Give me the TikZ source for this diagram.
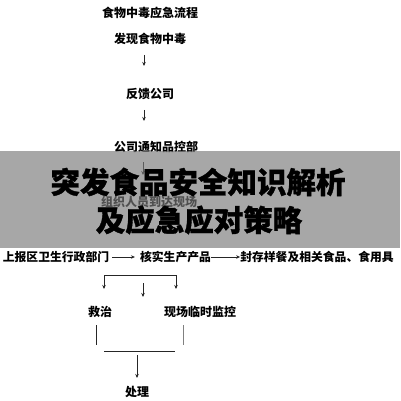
\documentclass[tikz,border=0pt]{standalone}
\usepackage{fontspec}
\setmainfont{Noto Sans CJK SC}
\newfontfamily\bannerfont{Noto Sans CJK SC}[BoldFeatures={FakeBold=1.2}]
\usetikzlibrary{arrows.meta, calc, positioning}
\tikzset{
    flow/.style = {-{Stealth[length=4pt,width=3.5pt]}, line width=0.8pt, draw=black!85},
    stage/.style = {inner sep=0pt, font=\bfseries\fontsize{12}{12}\selectfont},
    rowtext/.style = {inner sep=0pt, font=\bfseries\fontsize{11.8}{12}\selectfont},
    banner/.style = {inner sep=0pt, font=\bannerfont\bfseries\fontsize{29.5}{30}\selectfont},
    plain/.style = {line width=0.8pt, draw=black!85}
    }

\begin{document}
\begin{tikzpicture}[x=1pt, y=-1pt]
    \useasboundingbox (0,0) rectangle (400,401);

    \node[stage] (title) at (150,13) {食物中毒应急流程};
    \node[stage] (find) at (150,39) {发现食物中毒};
    \node[stage] (feedback) at (150,94) {反馈公司};
    \node[stage] (notify) at (156,147) {公司通知品控部};
    \node[stage] (arrive) at (149,202) {组织人员到达现场};

    \node[rowtext] (report) at (56,257) {上报区卫生行政部门};
    \node[rowtext] (verify) at (175.5,257) {核实生产产品};
    \node[rowtext] (seal) at (317,257) {封存样餐及相关食品、食用具};

    \node[stage] (treat) at (100,312) {救治};
    \node[stage] (monitor) at (200,312) {现场临时监控};
    \node[stage] (handle) at (137,392) {处理};

    % down the column
    \draw[flow] ($(find)+(-6,16)$) -- ($(feedback)+(-6,-28)$);
    \draw[flow] ($(feedback)+(-6,16)$) -- ($(notify)+(-12,-26)$);
    \draw[flow] ($(notify)+(-13,15)$) -- ($(arrive)+(-6,-27)$);

    % along the row
    \draw[flow] (report.east) ++(3,0) -- ($(verify.west)+(-5,0)$);
    \draw[flow] (verify.east) -- (seal.west);

    % split to the two actions
    \draw[{Stealth[length=4pt,width=3.5pt]}-{Stealth[length=4pt,width=3.5pt]}, line width=0.8pt, draw=black!85]
        ($(treat)+(4,-23)$) -- ++(0,-14) -| ($(monitor)+(-24,-23)$);
    \draw[flow] ($(treat)+(43,-29)$) -- ($(treat)+(43,-15)$);

    % join into handling
    \draw[plain] ($(treat)+(-4,13)$) -- ($(treat)+(-4,33)$);
    \draw[plain, draw=black!50] ($(monitor)+(-17,13)$) -- ($(monitor)+(-17,33)$);
    \draw[plain] ($(handle)+(-33,-41)$) -- ($(handle)+(38,-41)$);
    \draw[flow] ($(handle)+(0,-37)$) -- ($(handle)+(0,-14)$);

    % overlay
    \fill[black!52.5, fill opacity=0.66] (0,151) rectangle (400,248);
    \node[banner] (head) at (198,182) {突发食品安全知识解析};
    \node[banner] (subhead) at (199,220) {及应急应对策略};
\end{tikzpicture}
\end{document}
